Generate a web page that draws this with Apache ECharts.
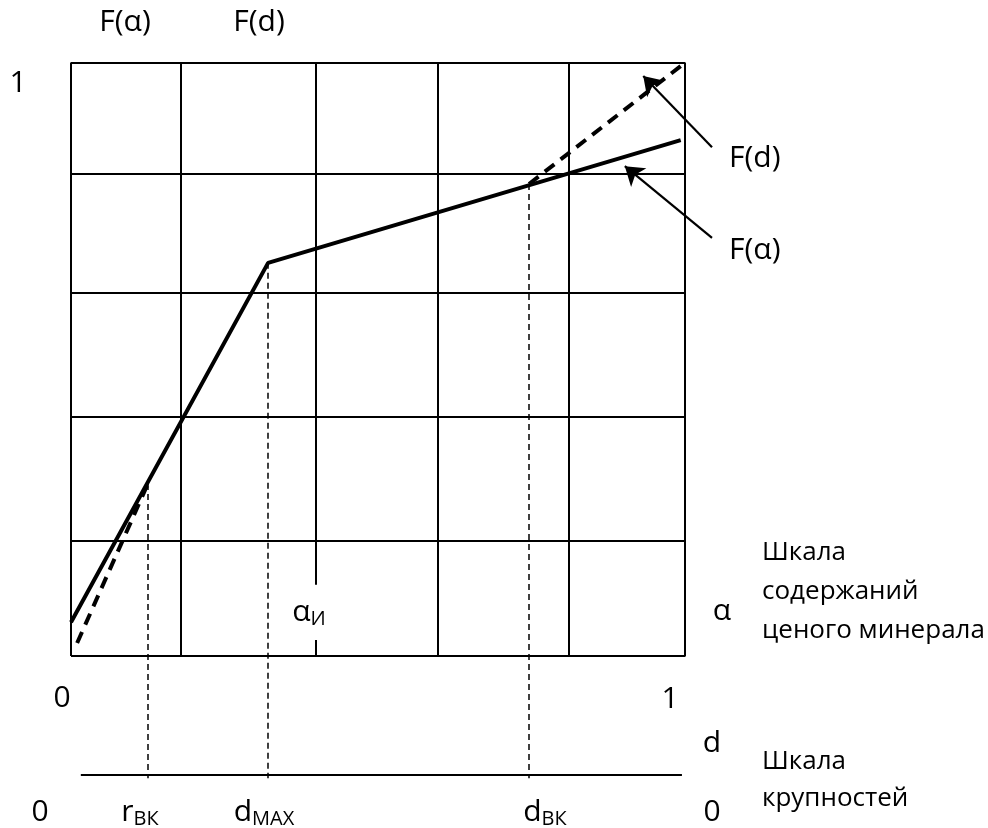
<!DOCTYPE html>
<html>
<head>
<meta charset="utf-8">
<script src="https://cdn.jsdelivr.net/npm/echarts@6/dist/echarts.min.js"></script>
<style>
html, body { margin: 0; padding: 0; background: #fff; }
#chart { width: 988px; height: 828px; }
</style>
</head>
<body>
<div id="chart"></div>
<script>
// values are shares of the square: 0..1 on the alpha scale and on F
var gridX = [0.179, 0.598, 0.811]
var gridY = [0.194, 0.403, 0.612, 0.813]
var alphaI = 0.399            // alpha_И line, broken for its label
var alphaIGap = [0.120, 0.027]

var fAlphaX = [0, 0.321, 0.993]
var fAlphaY = [0.057, 0.663, 0.870]
// F(d) runs under F(alpha) between r_BK and d_BK, only the ends show
var fdX = [0.010, 0.125, 0.746, 0.997]
var fdY = [0.022, 0.290, 0.796, 0.998]

// r_BK, d_MAX, d_BK projections down to the size scale
var dropX = [0.125, 0.321, 0.746]
var dropTop = [0.290, 0.663, 0.796]
var sizeScaleY = -0.201
var sizeScaleX = [0.016, 0.995]

// arrows from the right labels to the lines
var arrowFd = [[1.044, 0.858], [0.932, 0.978]]
var arrowFa = [[1.044, 0.705], [0.902, 0.826]]

// square on the page, px
var BOX_L = 71, BOX_T = 63, BOX_W = 614, BOX_H = 593
var W = 988, H = 828

var FONT = '"Open Sans", sans-serif'
var FS = 30      // symbols and numbers
var FS_RU = 26   // russian captions

function txt(x, y, text, align, size) {
    var fs = size || FS
    return {
        type: 'text', x: x, y: y, silent: true,
        style: {
            text: text, fill: '#000', fontSize: fs, fontFamily: FONT,
            align: align || 'center', verticalAlign: 'middle',
            rich: {
                m: { fontSize: fs, fontFamily: FONT, lineHeight: 34, verticalAlign: 'middle' },
                s: { fontSize: 20, fontFamily: FONT, lineHeight: 14, verticalAlign: 'bottom' }
            }
        }
    }
}

function seg(a, b, style) {
    return [{ coord: a, lineStyle: style }, { coord: b }]
}

var solid = { color: '#000', width: 2, type: 'solid' }
var thinDash = { color: '#000', width: 1.5, type: [6, 4] }

var gridLines = []
gridX.forEach(function (x) { gridLines.push(seg([x, 0], [x, 1], solid)) })
gridY.forEach(function (y) { gridLines.push(seg([0, y], [1, y], solid)) })
gridLines.push(seg([alphaI, 1], [alphaI, alphaIGap[0]], solid))
gridLines.push(seg([alphaI, alphaIGap[1]], [alphaI, 0], solid))
gridLines.push(seg([sizeScaleX[0], sizeScaleY], [sizeScaleX[1], sizeScaleY], solid))

var drops = dropX.map(function (x, i) {
    return seg([x, dropTop[i]], [x, sizeScaleY - 0.005], thinDash)
})

var arrows = [arrowFd, arrowFa].map(function (a) {
    return seg(a[0], a[1], { color: '#000', width: 2.2, type: 'solid' })
})

var fdPts = fdX.map(function (x, i) { return [x, fdY[i]] })
var fdStyle = { color: '#000', width: 4, type: [12, 8] }

var chart = echarts.init(document.getElementById('chart'))
var option = {
    animation: false,
    backgroundColor: '#fff',
    grid: { left: 0, right: 0, top: 0, bottom: 0 },
    xAxis: { type: 'value', show: false, min: -BOX_L / BOX_W, max: (W - BOX_L) / BOX_W },
    yAxis: { type: 'value', show: false, min: -(H - BOX_T - BOX_H) / BOX_H, max: (BOX_T + BOX_H) / BOX_H },
    series: [
        {
            // the square itself, its grid and the projections
            type: 'line', silent: true, symbol: 'none',
            data: [[0, 0], [1, 0], [1, 1], [0, 1], [0, 0]],
            lineStyle: { color: '#000', width: 2 },
            markLine: {
                silent: true, symbol: ['none', 'none'], label: { show: false },
                data: gridLines.concat(drops)
            }
        },
        {
            type: 'line', silent: true, symbol: 'none', name: 'F(d)',
            data: fdPts.slice(0, 2),
            lineStyle: fdStyle
        },
        {
            type: 'line', silent: true, symbol: 'none', name: 'F(d)',
            data: fdPts.slice(2),
            lineStyle: fdStyle,
            markLine: {
                silent: true, symbol: ['none', 'arrow'], symbolSize: 18, label: { show: false },
                data: arrows
            }
        },
        {
            type: 'line', silent: true, symbol: 'none', name: 'F(α)',
            data: fAlphaX.map(function (x, i) { return [x, fAlphaY[i]] }),
            lineStyle: { color: '#000', width: 4 }
        }
    ],
    graphic: [
        txt(125, 22, 'F(α)'),
        txt(259, 22, 'F(d)'),
        txt(18, 83, '1'),
        txt(729, 158, 'F(d)', 'left'),
        txt(729, 250, 'F(α)', 'left'),
        txt(309, 612, '{m|α}{s|И}'),
        txt(722, 611, 'α'),
        txt(762, 553, 'Шкала', 'left', FS_RU),
        txt(762, 592, 'содержаний', 'left', FS_RU),
        txt(762, 631, 'ценого минерала', 'left', FS_RU),
        txt(62, 698, '0'),
        txt(670, 699, '1'),
        txt(712, 743, 'd'),
        txt(762, 762, 'Шкала', 'left', FS_RU),
        txt(762, 799, 'крупностей', 'left', FS_RU),
        txt(40, 812, '0'),
        txt(140, 812, '{m|r}{s|ВК}'),
        txt(264, 812, '{m|d}{s|MAX}'),
        txt(545, 812, '{m|d}{s|ВК}'),
        txt(712, 812, '0')
    ]
}
chart.setOption(option)
</script>
</body>
</html>
